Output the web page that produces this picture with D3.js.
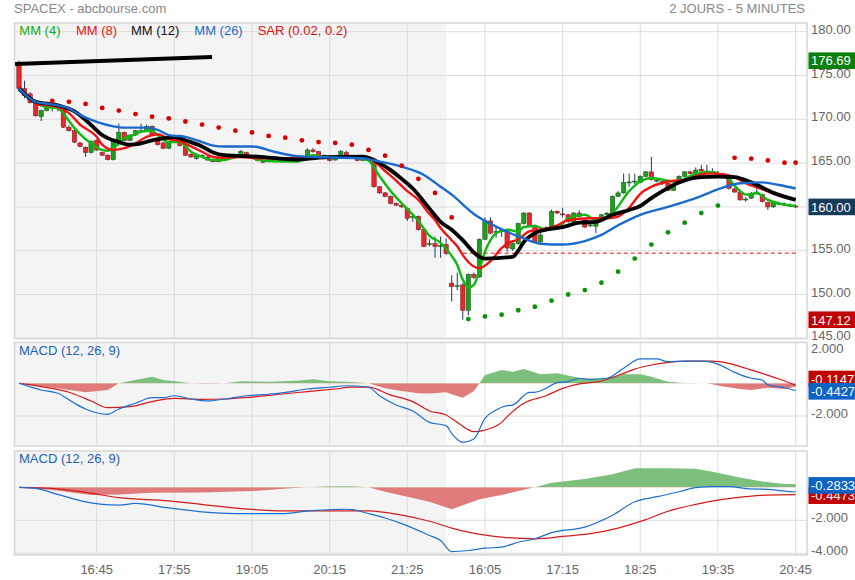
<!DOCTYPE html>
<html><head><meta charset="utf-8">
<script src="https://cdn.jsdelivr.net/npm/d3@7"></script>
<style>
body{margin:0;background:#fff;}
svg{display:block;font-family:"Liberation Sans",Arial,sans-serif;}
</style>
</head><body>
<svg id="c" width="855" height="580"></svg>
<script>
// ---------------- DATA ----------------
const title = "SPACEX - abcbourse.com";
const period = "2 JOURS - 5 MINUTES";
const tickIndex = [14, 28, 42, 56, 70, 84, 98, 112, 126, 140];
const tickLabels = ["16:45","17:55","19:05","20:15","21:25","16:05","17:15","18:25","19:35","20:45"];
const firstDayBars = 77;
const priceTicks = [180, 175, 170, 165, 160, 155, 150, 145];
const macd1Ticks = [2, -2];
const macd2Ticks = [-2, -4];

const opens = [
176.2,173.5,172.9,171.8,170.3,171.0,171.6,171.4,171.3,169.1,
168.7,167.3,166.8,166.2,167.6,166.2,165.9,165.4,167.5,168.5,
167.6,168.2,168.7,168.7,169.2,167.6,167.3,166.7,167.4,167.8,
166.9,166.0,165.5,165.9,165.7,165.35,165.15,165.7,165.9,165.9,
165.9,166.2,165.8,165.55,165.35,165.15,165.3,165.4,165.35,165.35,
165.5,165.7,165.8,166.5,166.3,165.75,165.75,165.35,165.9,166.2,
165.8,165.55,165.4,165.4,165.1,162.3,161.6,161.2,160.4,160.2,
159.8,158.9,158.9,157.4,155.8,155.8,155.6,155.7,151.3,151.0,
151.1,148.2,152.3,152.0,156.3,158.4,157.1,157.2,157.2,155.2,
155.8,158.1,159.3,157.9,156.0,157.5,157.7,159.5,159.2,159.1,
158.3,159.3,158.5,157.9,157.8,158.5,159.1,159.3,161.2,161.6,
162.8,162.9,162.8,163.5,164.0,163.0,162.9,162.7,161.9,163.0,
163.5,164.0,163.8,164.3,164.1,164.0,163.8,163.6,163.1,162.05,
161.7,160.9,161.0,161.55,161.4,160.5,160.0,160.4,160.3,160.2,
160.1];
const highs = [
176.69,174.4,173.1,171.9,171.1,171.7,172.0,171.7,171.4,169.3,
168.8,167.4,166.9,167.6,167.7,166.3,166.0,167.6,169.5,168.6,
168.3,168.8,169.5,169.4,169.3,167.7,167.4,167.5,167.9,167.9,
167.0,166.1,166.1,166.0,165.8,165.4,165.8,165.8,166.0,166.0,
166.5,166.3,165.9,165.6,165.4,165.4,165.5,165.45,165.4,165.45,
165.6,165.9,166.7,166.7,166.4,166.0,165.8,165.6,166.5,166.4,
165.9,165.6,165.5,165.5,165.2,162.4,161.7,161.3,160.5,160.3,
159.9,159.2,159.0,157.5,156.3,156.6,156.6,156.4,152.2,152.5,
151.3,152.4,152.5,156.4,158.8,158.8,157.8,157.6,157.3,155.9,
158.2,159.4,159.4,158.0,157.0,157.8,159.7,159.6,159.9,159.2,
159.4,159.6,158.6,158.2,158.6,159.2,159.4,161.3,161.8,163.8,
163.8,163.8,163.6,164.1,165.7,163.3,163.1,162.8,162.6,163.6,
164.1,164.1,164.5,164.8,164.8,164.4,164.1,163.9,163.2,162.2,
161.8,161.1,161.7,162.2,161.5,160.6,160.6,160.6,160.5,160.4,
160.3];
const lows = [
173.4,172.4,171.8,170.3,169.8,170.9,170.9,170.9,169.0,168.6,
167.3,166.8,165.7,166.1,166.4,165.8,165.3,165.3,167.4,167.5,
167.5,168.1,168.4,168.6,168.1,167.0,166.6,166.6,167.3,166.9,
165.8,165.6,165.4,165.8,165.3,165.1,165.1,165.6,165.8,165.8,
165.8,165.8,165.7,165.2,165.0,165.1,165.25,165.3,165.3,165.3,
165.45,165.6,165.7,166.2,165.8,165.7,165.2,165.3,165.8,165.8,
165.7,165.2,165.3,165.3,162.2,161.5,161.1,160.3,160.1,159.9,
158.4,158.3,157.3,155.4,155.5,154.2,154.2,154.5,149.2,150.5,
147.12,147.6,151.8,151.9,156.2,156.9,156.5,156.6,154.9,155.0,
155.7,158.0,157.8,155.9,155.9,157.2,157.6,159.2,158.8,158.2,
158.2,158.8,157.6,157.7,157.0,158.4,159.0,159.2,161.1,161.5,
162.3,162.6,162.7,163.4,163.0,162.8,162.5,161.8,161.8,162.9,
163.4,163.7,163.7,164.0,163.9,163.8,163.6,163.4,162.0,161.6,
160.7,160.6,160.9,161.5,160.5,159.65,159.9,160.2,160.1,160.0,
159.9];
const closes = [
173.5,172.7,171.9,170.4,171.0,171.6,171.5,171.3,169.1,168.7,
167.4,166.9,166.2,167.5,166.5,165.9,165.4,167.5,168.5,167.6,
168.2,168.7,168.7,169.2,168.2,167.1,166.7,167.4,167.8,167.0,
165.9,165.7,166.0,165.9,165.35,165.15,165.7,165.7,165.9,165.9,
166.3,165.9,165.75,165.3,165.1,165.35,165.45,165.35,165.35,165.4,
165.55,165.75,166.5,166.3,165.9,165.9,165.3,165.55,166.3,165.9,
165.8,165.3,165.4,165.45,162.3,161.6,161.2,160.4,160.2,160.0,
158.7,158.9,157.4,155.5,155.8,155.5,155.6,154.7,150.9,151.0,
148.2,152.3,151.96,156.3,158.4,157.0,157.2,157.3,155.3,155.8,
158.1,159.3,157.9,156.0,156.8,157.6,159.5,159.3,159.1,158.3,
159.3,158.9,157.7,157.95,158.5,159.1,159.3,161.2,161.6,162.8,
162.85,162.95,163.5,164.0,163.1,163.05,162.9,161.9,162.5,163.5,
164.0,163.8,164.2,164.1,164.1,164.0,163.8,163.6,162.1,161.7,
160.8,160.9,161.55,161.7,160.6,160.0,160.5,160.4,160.3,160.2,
160.0];

// moving averages: [bar index, value]
const mm4 = [[3,171.8],[5,171.4],[7,171.25],[8,170.7],[9,169.8],[11,168.3],[13,167.25],[15,166.5],[16,166.4],[17,166.7],[19,167.8],[21,168.3],[22,168.6],[24,168.7],[25,168.2],[27,167.4],[29,167.4],[31,166.3],[33,165.7],[35,165.35],[37,165.35],[39,165.7],[41,165.8],[43,165.4],[46,165.2],[50,165.17],[53,165.9],[55,165.7],[58,165.8],[62,165.5],[63,165.3],[65,163.5],[67,161.8],[69,160.4],[72,158.4],[74,156.7],[76,155.9],[78,154.4],[79,153.4],[80,151.7],[81,150.8],[82,151.1],[83,152.8],[84,154.9],[85,156.2],[86,157.0],[88,157.4],[90,157.2],[91,157.7],[93,157.8],[95,157.4],[97,157.5],[99,158.7],[102,159.1],[104,158.5],[107,159.3],[110,161.8],[112,162.9],[114,163.3],[117,163.0],[119,162.8],[120,163.2],[123,163.9],[125,164.0],[126,163.8],[128,163.1],[130,161.8],[131,161.4],[133,161.55],[135,160.8],[137,160.4],[140,160.1]];
const mm8 = [[3,171.7],[7,171.4],[9,170.7],[11,169.4],[14,168.0],[15,167.1],[17,166.5],[19,166.7],[21,167.25],[23,168.0],[25,168.3],[27,167.75],[29,167.5],[31,166.9],[33,166.3],[35,165.7],[37,165.6],[40,165.7],[43,165.55],[50,165.55],[55,165.74],[62,165.66],[64,165.2],[66,164.1],[68,163.0],[70,161.8],[72,160.8],[74,159.2],[75,158.5],[76,157.6],[78,156.2],[79,155.5],[80,154.5],[82,153.2],[83,153.0],[84,153.3],[85,153.8],[87,155.3],[88,155.8],[90,156.3],[92,157.2],[94,157.4],[97,157.9],[99,158.5],[103,158.7],[106,158.7],[108,158.9],[110,159.9],[112,161.5],[114,162.3],[117,162.9],[120,163.1],[124,163.8],[126,163.8],[129,163.4],[131,162.7],[134,162.0],[137,161.3],[140,160.8]];
const mm12 = [[0,173.5],[3,172.0],[7,171.6],[10,170.9],[13,169.35],[15,168.2],[18,167.4],[20,167.1],[22,167.26],[24,167.6],[27,167.9],[28,168.0],[30,167.6],[33,166.9],[35,166.2],[37,165.9],[43,165.74],[50,165.4],[55,165.66],[62,165.74],[63,165.6],[65,165.0],[67,164.2],[69,163.2],[71,162.1],[74,159.8],[76,158.3],[78,157.4],[80,156.2],[82,154.8],[83,154.3],[84,154.1],[89,154.3],[90,155.0],[91,156.0],[93,157.0],[95,157.4],[98,157.7],[101,158.2],[104,158.3],[107,159.1],[110,159.65],[112,160.1],[114,161.0],[116,161.8],[119,162.8],[123,163.4],[126,163.46],[129,163.4],[132,162.8],[136,161.6],[140,160.8]];
const mm26 = [[0,173.5],[3,172.0],[6,171.7],[9,171.25],[11,170.5],[14,169.7],[17,169.2],[19,169.05],[23,169.05],[25,168.8],[27,168.2],[30,168.0],[33,167.4],[35,167.0],[37,166.9],[42,166.9],[46,166.3],[50,165.8],[55,165.66],[62,165.55],[64,165.3],[69,164.6],[73,163.65],[76,162.3],[78,161.4],[82,159.2],[86,157.75],[91,156.4],[94,155.8],[98,155.7],[102,156.1],[105,156.8],[108,157.9],[112,159.1],[117,160.0],[122,161.0],[126,162.0],[130,162.7],[134,162.8],[137,162.5],[140,162.1]];
const trendLine = [[-0.7,176.3],[34.8,177.1]];
const sarAbove = [[6,172.1],[9,172.0],[12,171.75],[15,171.3],[18,171.0],[21,170.6],[24,170.3],[27,170.1],[30,169.75],[33,169.4],[36,169.05],[39,168.7],[42,168.5],[45,168.1],[48,167.9],[51,167.6],[54,167.4],[57,167.3],[60,167.1],[63,166.5],[66,165.85],[69,164.7],[72,163.2],[75,161.6],[78,158.8],[129,165.6],[132,165.5],[135,165.3],[138,165.05],[140,165.05]];
const sarBelow = [[81,147.2],[84,147.5],[87,147.7],[90,148.2],[93,148.6],[96,149.3],[99,150.0],[102,150.5],[105,151.35],[108,152.6],[111,154.1],[114,155.7],[117,157.1],[120,158.2],[123,159.3],[126,160.15]];
const refLevel = 154.72, refStart = 80;
const lastPrice = 160.00, highPrice = 176.69, lowPrice = 147.12;

// MACD panel 1
const macd1 = [[0,0],[4,-0.41],[7,-0.61],[10,-1.22],[12,-1.57],[16,-1.9],[18,-1.57],[21,-1.22],[24,-0.88],[26,-0.88],[28,-0.76],[31,-0.96],[34,-1.08],[37,-0.96],[41,-0.76],[45,-0.67],[48,-0.55],[52,-0.35],[56,-0.24],[59,-0.15],[63,-0.24],[65,-0.76],[68,-1.33],[71,-1.69],[74,-2.39],[77,-2.59],[78,-3.06],[80,-3.61],[82,-3.41],[84,-2.14],[86,-1.63],[88,-1.37],[89,-1.33],[92,-0.55],[93,-0.55],[95,-0.31],[97,0.04],[99,0.1],[101,0.31],[103,0.24],[106,0.31],[109,0.92],[112,1.49],[115,1.49],[117,1.32],[120,1.36],[123,1.36],[125,1.28],[127,1.02],[129,0.67],[132,0.31],[134,0.2],[135,-0.1],[138,-0.27],[140,-0.4427]];
const signal1 = [[0,0],[6,-0.31],[9,-0.55],[13,-1.08],[16,-1.49],[20,-1.43],[24,-1.12],[28,-0.92],[33,-0.98],[37,-0.96],[42,-0.84],[47,-0.67],[52,-0.51],[57,-0.35],[60,-0.24],[63,-0.24],[67,-0.72],[71,-1.12],[74,-1.69],[77,-1.94],[79,-2.39],[82,-2.96],[84,-2.86],[87,-2.39],[88,-2.04],[91,-1.22],[95,-0.76],[98,-0.31],[101,-0.04],[105,0.14],[109,0.61],[111,0.87],[114,1.12],[117,1.28],[121,1.36],[125,1.36],[128,1.22],[131,0.92],[134,0.61],[137,0.26],[140,-0.1147]];
const hist1 = [[0,0],[6,-0.25],[12,-0.55],[16,-0.41],[18,0],[21,0.2],[24,0.4],[26,0.2],[29,0.1],[31,0],[34,-0.03],[37,0],[40,0.12],[45,0.1],[50,0.15],[53,0.25],[56,0.12],[60,0.08],[63,0],[66,-0.31],[69,-0.47],[72,-0.61],[74,-0.62],[77,-0.55],[78,-0.67],[80,-0.88],[82,-0.47],[83,0],[84,0.51],[87,0.81],[89,0.71],[91,0.87],[94,0.55],[97,0.61],[100,0.4],[102,0.27],[106,0.31],[109,0.55],[112,0.55],[114,0.4],[117,0.1],[120,0.02],[124,0],[127,-0.2],[130,-0.35],[132,-0.41],[135,-0.27],[138,-0.35],[140,-0.2]];
// MACD panel 2
const macd2 = [[0,0],[3,-0.06],[7,-0.43],[12,-0.88],[18,-1.08],[21,-0.98],[27,-1.25],[33,-1.49],[39,-1.59],[48,-1.59],[52,-1.43],[59,-1.33],[60,-1.35],[63,-1.59],[66,-1.86],[69,-2.2],[74,-2.92],[76,-3.22],[78,-3.9],[81,-3.83],[84,-3.69],[87,-3.63],[90,-3.33],[93,-3.12],[96,-2.75],[102,-2.41],[107,-1.69],[111,-0.88],[115,-0.57],[119,-0.27],[122,-0.02],[125,0.04],[128,0.04],[132,-0.1],[135,-0.12],[138,-0.23],[140,-0.2833]];
const signal2 = [[0,0],[6,-0.06],[12,-0.31],[18,-0.63],[27,-0.82],[34,-1.08],[40,-1.29],[48,-1.43],[57,-1.43],[63,-1.43],[69,-1.69],[74,-2.06],[78,-2.47],[81,-2.72],[87,-3.02],[93,-3.12],[98,-2.98],[103,-2.81],[108,-2.47],[113,-1.96],[117,-1.45],[122,-1.04],[126,-0.78],[131,-0.57],[135,-0.47],[140,-0.4473]];
const hist2 = [[0,0],[6,-0.16],[13,-0.47],[18,-0.43],[24,-0.33],[33,-0.31],[42,-0.23],[49,-0.06],[52,0],[56,0.06],[60,0.06],[63,0],[66,-0.27],[70,-0.57],[74,-0.88],[78,-1.33],[83,-0.72],[87,-0.47],[90,-0.23],[93,0],[96,0.28],[102,0.51],[107,0.79],[111,1.16],[117,1.16],[122,1.12],[125,0.95],[130,0.59],[134,0.35],[138,0.2],[140,0.2]];

// ---------------- DRAW ----------------
const svg = d3.select("#c");
const X0 = 14.5, X1 = 807;
const GRID = "#dcdcdc", LBL = "#666";
const x = d3.scaleLinear().domain([0, 140]).range([19, 795.6]);
const yP = d3.scaleLinear().domain([145, 180]).range([338.3, 31.7]);
const y1 = d3.scaleLinear().domain([-2, 2]).range([416, 350.6]);
const y2 = d3.scaleLinear().domain([-4, 0]).range([553.3, 487.3]);
const panels = [
  {id:"p0", top:23, bottom:338.5},
  {id:"p1", top:342.5, bottom:446},
  {id:"p2", top:451, bottom:555}
];
const defs = svg.append("defs");
panels.forEach(p => {
  defs.append("clipPath").attr("id", "clip-" + p.id).append("rect")
    .attr("x", X0).attr("y", p.top).attr("width", X1 - X0).attr("height", p.bottom - p.top);
  svg.append("rect").attr("x", X0).attr("y", p.top).attr("width", x(firstDayBars) - X0)
    .attr("height", p.bottom - p.top).attr("fill", "#f4f4f4");
  svg.append("g").selectAll("line").data(tickIndex).join("line")
    .attr("x1", d => x(d)).attr("x2", d => x(d)).attr("y1", p.top).attr("y2", p.bottom)
    .attr("stroke", GRID).attr("stroke-width", 1);
});
svg.append("g").selectAll("line").data(priceTicks).join("line")
  .attr("x1", X0).attr("x2", X1).attr("y1", d => yP(d)).attr("y2", d => yP(d))
  .attr("stroke", GRID);
svg.append("g").selectAll("line").data([-2]).join("line")
  .attr("x1", X0).attr("x2", X1).attr("y1", d => y1(d)).attr("y2", d => y1(d)).attr("stroke", GRID);
svg.append("g").selectAll("line").data(macd2Ticks).join("line")
  .attr("x1", X0).attr("x2", X1).attr("y1", d => y2(d)).attr("y2", d => y2(d)).attr("stroke", GRID);
panels.forEach(p => {
  svg.append("rect").attr("x", X0).attr("y", p.top).attr("width", X1 - X0).attr("height", p.bottom - p.top)
    .attr("fill", "none").attr("stroke", "#d6d6d6").attr("stroke-width", 1.5);
});

// ---- main panel ----
const gMain = svg.append("g").attr("clip-path", "url(#clip-p0)");
const bars = d3.range(opens.length).map(i => ({i, o: opens[i], h: highs[i], l: lows[i], c: closes[i]}));
gMain.append("g").selectAll("line").data(bars).join("line")
  .attr("x1", d => x(d.i)).attr("x2", d => x(d.i))
  .attr("y1", d => yP(d.h)).attr("y2", d => yP(d.l))
  .attr("stroke", "#1d3a55").attr("stroke-width", 1);
gMain.append("g").selectAll("rect").data(bars).join("rect")
  .attr("x", d => x(d.i) - 2.2).attr("width", 4.4)
  .attr("y", d => yP(Math.max(d.o, d.c)))
  .attr("height", d => Math.max(1, Math.abs(yP(d.o) - yP(d.c))))
  .attr("fill", d => d.c >= d.o ? "#1c9e1c" : "#e8262d")
  .attr("stroke", d => d.c >= d.o ? "#16501c" : "#6a1a1a").attr("stroke-width", 0.5);

gMain.append("line").attr("x1", x(refStart)).attr("x2", x(140))
  .attr("y1", yP(refLevel)).attr("y2", yP(refLevel))
  .attr("stroke", "#e01010").attr("stroke-width", 1).attr("stroke-dasharray", "4,3");

const pline = d3.line().x(d => x(d[0])).y(d => yP(d[1])).curve(d3.curveMonotoneX);
gMain.append("path").datum(mm4).attr("d", pline).attr("fill", "none").attr("stroke", "#11b811").attr("stroke-width", 2.4);
gMain.append("path").datum(mm8).attr("d", pline).attr("fill", "none").attr("stroke", "#f01515").attr("stroke-width", 2.4);
gMain.append("path").datum(mm12).attr("d", pline).attr("fill", "none").attr("stroke", "#000").attr("stroke-width", 3.8);
gMain.append("path").datum(mm26).attr("d", pline).attr("fill", "none").attr("stroke", "#1a6acb").attr("stroke-width", 2.4);
gMain.append("path").datum(trendLine).attr("d", d3.line().x(d => x(d[0])).y(d => yP(d[1])))
  .attr("fill", "none").attr("stroke", "#000").attr("stroke-width", 4);

gMain.append("g").selectAll("circle").data(sarAbove).join("circle")
  .attr("cx", d => x(d[0])).attr("cy", d => yP(d[1])).attr("r", 2.4).attr("fill", "#d90000");
gMain.append("g").selectAll("circle").data(sarBelow).join("circle")
  .attr("cx", d => x(d[0])).attr("cy", d => yP(d[1])).attr("r", 2.4).attr("fill", "#0b930b");

// ---- MACD panels ----
function macdPanel(id, ys, mac, sig, hist) {
  const g = svg.append("g").attr("clip-path", "url(#clip-" + id + ")");
  const p = panels.find(q => q.id === id);
  const z = ys(0);
  defs.append("clipPath").attr("id", "pos-" + id).append("rect")
    .attr("x", X0).attr("y", p.top).attr("width", X1 - X0).attr("height", z - p.top);
  defs.append("clipPath").attr("id", "neg-" + id).append("rect")
    .attr("x", X0).attr("y", z).attr("width", X1 - X0).attr("height", p.bottom - z);
  const area = d3.area().x(d => x(d[0])).y0(z).y1(d => ys(d[1]));
  g.append("path").datum(hist).attr("d", area).attr("fill", "#7dbf7d").attr("clip-path", "url(#pos-" + id + ")");
  g.append("path").datum(hist).attr("d", area).attr("fill", "#e07b7b").attr("clip-path", "url(#neg-" + id + ")");
  const ln = d3.line().x(d => x(d[0])).y(d => ys(d[1])).curve(d3.curveMonotoneX);
  g.append("path").datum(sig).attr("d", ln).attr("fill", "none").attr("stroke", "#d41a1a").attr("stroke-width", 1.2);
  g.append("path").datum(mac).attr("d", ln).attr("fill", "none").attr("stroke", "#1c6fd2").attr("stroke-width", 1.2);
  svg.append("text").attr("x", 19).attr("y", p.top + 12).attr("font-size", 13).attr("fill", "#1e5fb8")
    .text("MACD (12, 26, 9)");
}
macdPanel("p1", y1, macd1, signal1, hist1);
macdPanel("p2", y2, macd2, signal2, hist2);

// ---- texts ----
svg.append("text").attr("x", 14).attr("y", 12.7).attr("font-size", 13).attr("fill", "#888").text(title);
svg.append("text").attr("x", 805).attr("y", 12.7).attr("font-size", 13).attr("fill", "#888")
  .attr("text-anchor", "end").text(period);

const legend = [
  {t:"MM (4)", c:"#11b011", x:19.3},
  {t:"MM (8)", c:"#ee1111", x:76},
  {t:"MM (12)", c:"#111", x:131},
  {t:"MM (26)", c:"#1a6acb", x:194.3},
  {t:"SAR (0.02, 0.2)", c:"#e01010", x:257.7}
];
svg.append("g").selectAll("text").data(legend).join("text")
  .attr("x", d => d.x).attr("y", 35.3).attr("font-size", 13).attr("fill", d => d.c).text(d => d.t);

// axis labels (the tick fully hidden behind the last-price box is not drawn)
svg.append("g").selectAll("text").data(priceTicks.filter(v => v !== lastPrice)).join("text")
  .attr("x", 811).attr("y", d => yP(d) + 2).attr("font-size", 13).attr("fill", LBL).text(d => d.toFixed(2));
svg.append("g").selectAll("text").data(macd1Ticks).join("text")
  .attr("x", 811).attr("y", d => y1(d) + 2.4).attr("font-size", 13).attr("fill", LBL).text(d => d.toFixed(3));
svg.append("g").selectAll("text").data(macd2Ticks).join("text")
  .attr("x", 811).attr("y", d => y2(d) + 1.8).attr("font-size", 13).attr("fill", LBL).text(d => d.toFixed(3));
svg.append("g").selectAll("text").data(tickIndex).join("text")
  .attr("x", d => x(d)).attr("y", 574.3).attr("font-size", 13).attr("fill", LBL)
  .attr("text-anchor", "middle").text((d, k) => tickLabels[k]);

// value boxes
function box(yc, txt, color) {
  svg.append("rect").attr("x", 808.5).attr("y", yc - 8.3).attr("width", 47).attr("height", 16.6).attr("fill", color);
  svg.append("text").attr("x", 811).attr("y", yc + 4.8).attr("font-size", 13).attr("fill", "#fff").text(txt);
}
box(yP(highPrice), highPrice.toFixed(2), "#0b7f0b");
box(yP(lastPrice), lastPrice.toFixed(2), "#163b58");
box(yP(lowPrice), lowPrice.toFixed(2), "#c00000");
const s1 = signal1[signal1.length - 1][1], m1 = macd1[macd1.length - 1][1];
box(y1(s1) - 6.2, s1.toFixed(4), "#c00000");
box(y1(m1) + 0.8, m1.toFixed(4), "#0d62c4");
const s2 = signal2[signal2.length - 1][1], m2 = macd2[macd2.length - 1][1];
box(y2(s2) + 1, s2.toFixed(4), "#c00000");
box(y2(m2) - 6.6, m2.toFixed(4), "#0d62c4");
</script>
</body></html>
